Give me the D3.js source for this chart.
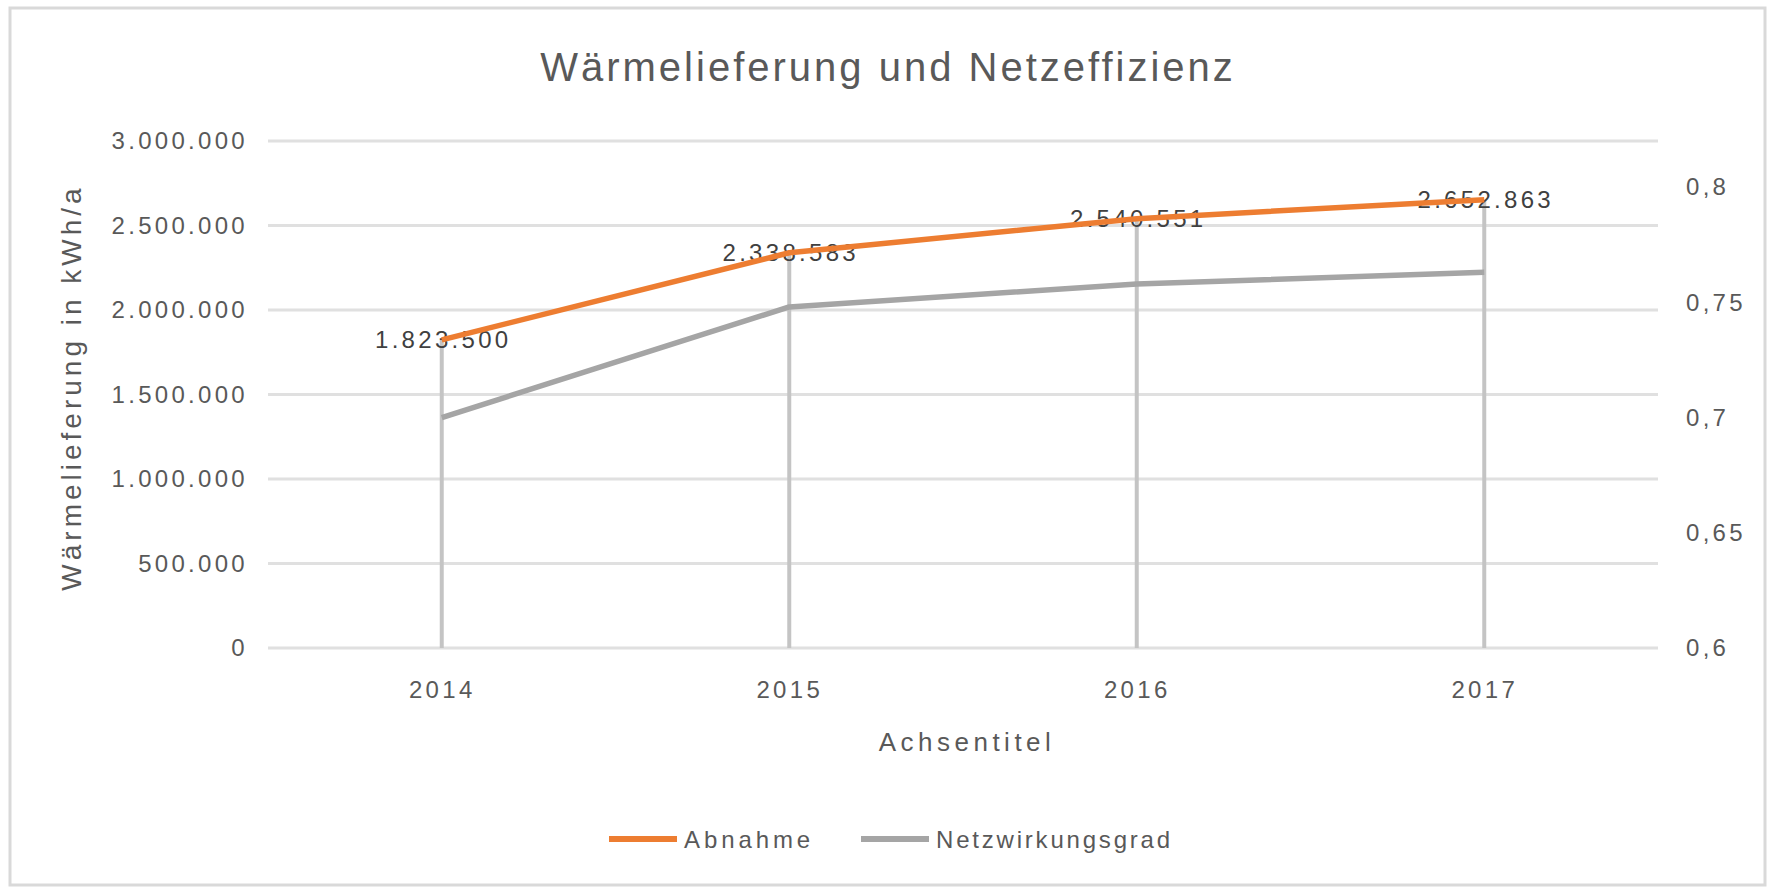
<!DOCTYPE html>
<html>
<head>
<meta charset="utf-8">
<script src="https://cdn.jsdelivr.net/npm/d3@7"></script>
<style>
  html, body { margin: 0; padding: 0; background: #fff; }
  svg { display: block; }
  text { font-family: "Liberation Sans", Arial, sans-serif; }
</style>
</head>
<body>
<svg id="chart" width="1770" height="888"></svg>
<script>
// ---- data ----
const categories = ["2014", "2015", "2016", "2017"];
const abnahme = [1823500, 2338583, 2540551, 2652863];
const netzwirkungsgrad = [0.700, 0.748, 0.758, 0.763];
const leftTicks = [0, 500000, 1000000, 1500000, 2000000, 2500000, 3000000];
const rightTicks = [0.6, 0.65, 0.7, 0.75, 0.8];
const seriesNames = ["Abnahme", "Netzwirkungsgrad"];
const chartTitle = "Wärmelieferung und Netzeffizienz";
const yTitle = "Wärmelieferung in kWh/a";
const xTitle = "Achsentitel";

// ---- layout ----
const W = 1770, H = 888;
const plot = { left: 268, right: 1658, top: 141, bottom: 648 };
const orange = "#ed7d31", grey = "#a5a5a5";

const de = d3.formatLocale({ decimal: ",", thousands: ".", grouping: [3], currency: ["", ""] });
const fmtInt = de.format(",.0f");
const fmtDec = v => de.format(",")(+v.toFixed(2));

const svg = d3.select("#chart");

svg.append("rect").attr("x", 0).attr("y", 0).attr("width", W).attr("height", H).attr("fill", "#fff");
svg.append("rect").attr("x", 10).attr("y", 8).attr("width", 1755).attr("height", 877)
  .attr("fill", "none").attr("stroke", "#d9d9d9").attr("stroke-width", 3);

const x = d3.scalePoint().domain(categories).range([plot.left, plot.right]).padding(0.5);
const yL = d3.scaleLinear().domain([0, 3000000]).range([plot.bottom, plot.top]);
const yR = d3.scaleLinear().domain([0.6, 0.82]).range([plot.bottom, plot.top]);

// gridlines
svg.append("g").selectAll("line").data(leftTicks).join("line")
  .attr("x1", plot.left).attr("x2", plot.right)
  .attr("y1", d => yL(d)).attr("y2", d => yL(d))
  .attr("stroke", "#e0e0e0").attr("stroke-width", 3);

// left axis
const leftAxis = d3.axisLeft(yL).tickValues(leftTicks).tickFormat(fmtInt).tickSize(0).tickPadding(20);
const gL = svg.append("g").attr("transform", `translate(${plot.left},0)`).call(leftAxis);
gL.select(".domain").remove();
gL.selectAll("text").attr("font-size", 24).attr("fill", "#595959").attr("letter-spacing", 3.3)
  .attr("font-family", "Liberation Sans, Arial, sans-serif");

// right axis
const rightAxis = d3.axisRight(yR).tickValues(rightTicks).tickFormat(fmtDec).tickSize(0).tickPadding(28);
const gR = svg.append("g").attr("transform", `translate(${plot.right},0)`).call(rightAxis);
gR.select(".domain").remove();
gR.selectAll("text").attr("font-size", 24).attr("fill", "#595959").attr("letter-spacing", 3.3)
  .attr("font-family", "Liberation Sans, Arial, sans-serif");

// bottom axis
const bottomAxis = d3.axisBottom(x).tickSize(0).tickPadding(33);
const gB = svg.append("g").attr("transform", `translate(0,${plot.bottom})`).call(bottomAxis);
gB.select(".domain").remove();
gB.selectAll("text").attr("font-size", 24).attr("fill", "#595959").attr("letter-spacing", 3.3)
  .attr("font-family", "Liberation Sans, Arial, sans-serif");

// drop lines
const tops = categories.map((c, i) => Math.min(yL(abnahme[i]), yR(netzwirkungsgrad[i])));
svg.append("g").selectAll("line").data(categories).join("line")
  .attr("x1", d => x(d)).attr("x2", d => x(d))
  .attr("y1", (d, i) => tops[i]).attr("y2", plot.bottom)
  .attr("stroke", "#c4c4c4").attr("stroke-width", 4);

// data labels (drawn under the lines as in the reference)
svg.append("g").selectAll("text").data(categories).join("text")
  .attr("x", d => x(d) + 1.5).attr("y", (d, i) => yL(abnahme[i]))
  .attr("text-anchor", "middle").attr("dominant-baseline", "central")
  .attr("font-size", 24).attr("letter-spacing", 3.3).attr("fill", "#404040")
  .text((d, i) => fmtInt(abnahme[i]));

// lines
const lineL = d3.line().x((d, i) => x(categories[i])).y(d => yL(d));
const lineR = d3.line().x((d, i) => x(categories[i])).y(d => yR(d));
svg.append("path").datum(netzwirkungsgrad).attr("d", lineR)
  .attr("fill", "none").attr("stroke", grey).attr("stroke-width", 5.5).attr("stroke-linejoin", "round");
svg.append("path").datum(abnahme).attr("d", lineL)
  .attr("fill", "none").attr("stroke", orange).attr("stroke-width", 5.5).attr("stroke-linejoin", "round");

// titles
svg.append("text").attr("x", 888).attr("y", 67).attr("text-anchor", "middle").attr("dominant-baseline", "central")
  .attr("font-size", 40).attr("letter-spacing", 3).attr("fill", "#595959").text(chartTitle);

svg.append("text").attr("transform", `translate(71,${(plot.top + plot.bottom) / 2 - 7}) rotate(-90)`)
  .attr("text-anchor", "middle").attr("dominant-baseline", "central")
  .attr("font-size", 28).attr("letter-spacing", 4).attr("fill", "#595959").text(yTitle);

svg.append("text").attr("x", (plot.left + plot.right) / 2 + 4).attr("y", 742)
  .attr("text-anchor", "middle").attr("dominant-baseline", "central")
  .attr("font-size", 26).attr("letter-spacing", 4.5).attr("fill", "#595959").text(xTitle);

// legend
const legendItems = [
  { name: seriesNames[0], color: orange, x0: 609, ls: 3.9 },
  { name: seriesNames[1], color: grey, x0: 861, ls: 2.8 }
];
const lg = svg.append("g").selectAll("g").data(legendItems).join("g")
  .attr("transform", d => `translate(${d.x0},839)`);
lg.append("line").attr("x1", 0).attr("x2", 68).attr("y1", 0).attr("y2", 0)
  .attr("stroke", d => d.color).attr("stroke-width", 6);
lg.append("text").attr("x", 75).attr("y", 0).attr("dominant-baseline", "central")
  .attr("font-size", 24).attr("letter-spacing", d => d.ls).attr("fill", "#595959")
  .text(d => d.name);
</script>
</body>
</html>
